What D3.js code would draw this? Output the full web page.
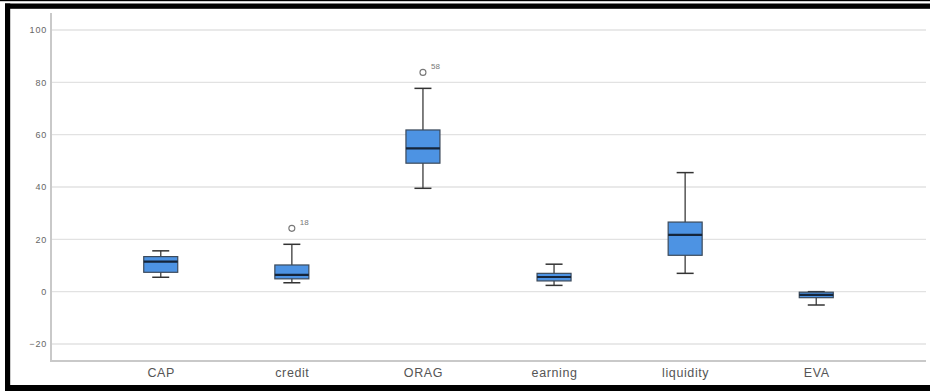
<!DOCTYPE html>
<html>
<head>
<meta charset="utf-8">
<script src="https://cdn.jsdelivr.net/npm/d3@7"></script>
<style>
  html, body { margin: 0; padding: 0; background: #fff; }
  svg { display: block; }
</style>
</head>
<body>
<div id="chart"></div>
<script>
// ---- data ----
const categories = ["CAP", "credit", "ORAG", "earning", "liquidity", "EVA"];
const whiskerLow  = [5.5, 3.4, 39.5, 2.4, 7.0, -5.1];
const q1          = [7.4, 4.9, 49.1, 4.1, 13.9, -2.3];
const medians     = [11.5, 6.4, 54.8, 5.6, 21.7, -1.2];
const q3          = [13.4, 10.2, 61.8, 7.0, 26.6, -0.2];
const whiskerHigh = [15.6, 18.1, 77.7, 10.5, 45.5, 0.0];
const outlierCategory = ["credit", "ORAG"];
const outlierValue    = [24.2, 83.8];
const outlierLabel    = ["18", "58"];
const yTicks = [-20, 0, 20, 40, 60, 80, 100];

const W = 930, H = 391;
const svg = d3.select("#chart").append("svg").attr("width", W).attr("height", H);

// frame
svg.append("rect").attr("x", 0).attr("y", 0).attr("width", W).attr("height", 1.2).attr("fill", "#000");
svg.append("rect").attr("x", 5).attr("y", 3.5).attr("width", W - 5).attr("height", 5.3).attr("fill", "#000");
svg.append("rect").attr("x", 5).attr("y", 3.5).attr("width", 5.2).attr("height", H - 3.5).attr("fill", "#000");
svg.append("rect").attr("x", 5).attr("y", 385).attr("width", W - 5).attr("height", 6).attr("fill", "#000");

const axisLeft = 51, axisRight = 926, axisTop = 13, axisBottom = 361;
const y = d3.scaleLinear().domain([-26.5, 106.5]).range([axisBottom, axisTop]);
const x = d3.scalePoint().domain(categories).range([axisLeft, axisRight]).padding(0.837);

const font = "Liberation Sans, Arial, sans-serif";

// gridlines
svg.append("g").selectAll("line").data(yTicks).join("line")
  .attr("x1", axisLeft).attr("x2", axisRight)
  .attr("y1", d => y(d)).attr("y2", d => y(d))
  .attr("stroke", "#e2e2e2").attr("stroke-width", 1.4);

// y axis
const yAxis = svg.append("g").attr("transform", `translate(${axisLeft},0)`)
  .call(d3.axisLeft(y).tickValues(yTicks).tickSize(0).tickPadding(4));
yAxis.select(".domain").remove();
yAxis.selectAll("text").attr("font-family", font)
  .attr("font-size", 9).attr("letter-spacing", "0.8px").attr("fill", "#666");

svg.append("line").attr("x1", axisLeft).attr("x2", axisLeft).attr("y1", axisTop).attr("y2", axisBottom)
  .attr("stroke", "#c9c9c9").attr("stroke-width", 2);

// x axis
const xAxis = svg.append("g").attr("transform", `translate(0,${axisBottom})`)
  .call(d3.axisBottom(x).tickSize(0).tickPadding(7));
xAxis.select(".domain").remove();
xAxis.selectAll("text").attr("font-family", font)
  .attr("font-size", 12.5).attr("letter-spacing", "0.6px").attr("fill", "#555");
svg.append("line").attr("x1", axisLeft - 1).attr("x2", axisRight).attr("y1", axisBottom).attr("y2", axisBottom)
  .attr("stroke", "#c9c9c9").attr("stroke-width", 2);

// boxes
const boxW = 34, capW = 17;
const data = categories.map((c, i) => ({
  c, lo: whiskerLow[i], q1: q1[i], med: medians[i], q3: q3[i], hi: whiskerHigh[i]
}));
const g = svg.append("g");
const items = g.selectAll("g.box").data(data).join("g").attr("class", "box");

items.append("line")
  .attr("x1", d => x(d.c)).attr("x2", d => x(d.c))
  .attr("y1", d => y(d.hi)).attr("y2", d => y(d.lo))
  .attr("stroke", "#555").attr("stroke-width", 1.5);
items.append("line")
  .attr("x1", d => x(d.c) - capW / 2).attr("x2", d => x(d.c) + capW / 2)
  .attr("y1", d => y(d.hi)).attr("y2", d => y(d.hi))
  .attr("stroke", "#333").attr("stroke-width", 1.5);
items.append("line")
  .attr("x1", d => x(d.c) - capW / 2).attr("x2", d => x(d.c) + capW / 2)
  .attr("y1", d => y(d.lo)).attr("y2", d => y(d.lo))
  .attr("stroke", "#333").attr("stroke-width", 1.5);
items.append("rect")
  .attr("x", d => x(d.c) - boxW / 2).attr("width", boxW)
  .attr("y", d => y(d.q3)).attr("height", d => y(d.q1) - y(d.q3))
  .attr("fill", "#4d93e3").attr("stroke", "#3c4a5a").attr("stroke-width", 1.2);
items.append("line")
  .attr("x1", d => x(d.c) - boxW / 2).attr("x2", d => x(d.c) + boxW / 2)
  .attr("y1", d => y(d.med)).attr("y2", d => y(d.med))
  .attr("stroke", "#15253a").attr("stroke-width", 2.2);

// outliers
const outs = outlierCategory.map((c, i) => ({ c, v: outlierValue[i], lab: outlierLabel[i] }));
const og = svg.append("g").selectAll("g").data(outs).join("g");
og.append("circle").attr("cx", d => x(d.c)).attr("cy", d => y(d.v)).attr("r", 3)
  .attr("fill", "none").attr("stroke", "#777").attr("stroke-width", 1.1);
og.append("text").attr("x", d => x(d.c) + 8).attr("y", d => y(d.v) - 3)
  .attr("font-family", font).attr("font-size", 8)
  .attr("fill", "#777").text(d => d.lab);
</script>
</body>
</html>
